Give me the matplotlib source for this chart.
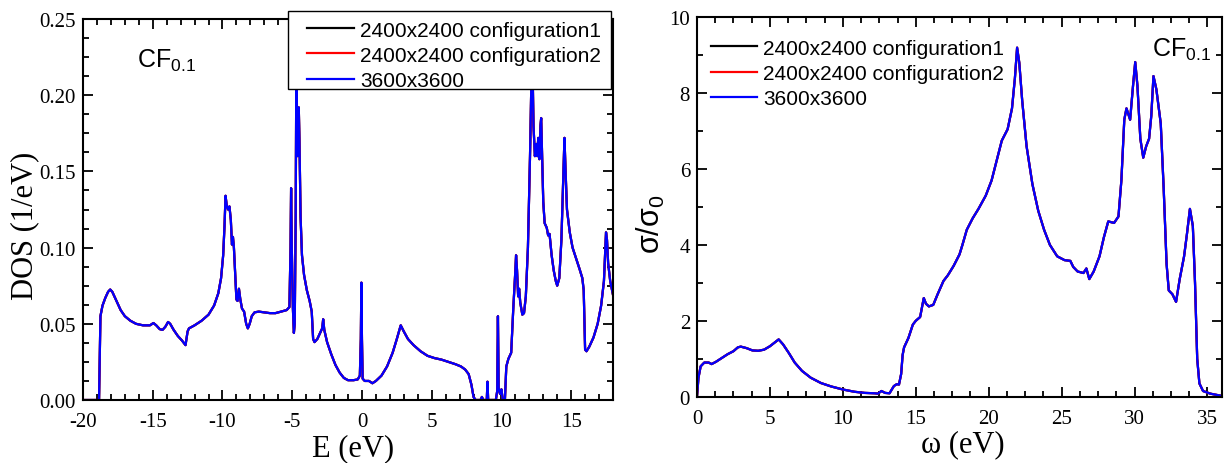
import matplotlib
matplotlib.use("Agg")
import matplotlib.pyplot as plt
from matplotlib.ticker import MultipleLocator, FormatStrFormatter
from matplotlib.patches import Rectangle

plt.rcParams['axes.unicode_minus'] = False
plt.rcParams['mathtext.fontset'] = 'custom'
plt.rcParams['mathtext.rm'] = 'Liberation Sans'
plt.rcParams['mathtext.it'] = 'Liberation Sans'

# ---------------- data ----------------
series_labels = ["2400x2400 configuration1", "2400x2400 configuration2", "3600x3600"]
series_colors = ["black", "red", "blue"]

energy = [-20, -18.85, -18.75, -18.6, -18.4, -18.2, -18.05, -17.9, -17.6, -17.3, -17.0, -16.6, -16.2,
          -15.7, -15.2, -14.95, -14.75, -14.5, -14.3, -14.1, -13.9, -13.75, -13.5, -13.2, -12.9, -12.65,
          -12.5, -12.4, -12.0, -11.5, -11.0, -10.6, -10.3, -10.1, -9.95, -9.85, -9.78, -9.7, -9.6, -9.5,
          -9.4, -9.32, -9.25, -9.18, -9.1, -9.0, -8.92, -8.82, -8.72, -8.6, -8.45, -8.3, -8.18, -8.05,
          -7.9, -7.7, -7.4, -7.0, -6.6, -6.2, -5.8, -5.4, -5.2, -5.12, -5.08, -5.03, -4.95, -4.88, -4.82,
          -4.75, -4.7, -4.65, -4.6, -4.53, -4.48, -4.4, -4.3, -4.15, -3.95, -3.75, -3.6, -3.5, -3.4, -3.2,
          -3.0, -2.85, -2.78, -2.7, -2.5, -2.2, -1.9, -1.6, -1.3, -1.0, -0.6, -0.3, -0.15, -0.08, -0.04,
          0.0, 0.05, 0.2, 0.5, 0.75, 1.0, 1.4, 1.8, 2.2, 2.5, 2.78, 3.0, 3.3, 3.7, 4.2, 4.7, 5.2, 5.7,
          6.2, 6.7, 7.1, 7.4, 7.65, 7.85, 8.0, 8.15, 8.5, 8.6, 8.7, 8.95, 9.0, 9.05, 9.6, 9.7, 9.75, 9.8,
          9.9, 10.0, 10.1, 10.25, 10.35, 10.5, 10.7, 10.85, 11.0, 11.05, 11.12, 11.2, 11.27, 11.35, 11.5,
          11.62, 11.75, 11.9, 12.05, 12.15, 12.22, 12.3, 12.4, 12.5, 12.57, 12.64, 12.72, 12.8, 12.85,
          12.92, 13.0, 13.1, 13.25, 13.35, 13.45, 13.6, 13.75, 13.9, 14.0, 14.15, 14.3, 14.45, 14.52,
          14.6, 14.7, 14.9, 15.1, 15.35, 15.6, 15.8, 15.9, 16.0, 16.1, 16.3, 16.6, 16.9, 17.15, 17.35,
          17.5, 17.57, 17.65, 17.8, 18.0]
dos = [0, 0, 0.055, 0.062, 0.067, 0.071, 0.0725, 0.071, 0.065, 0.059, 0.055, 0.052, 0.050,
       0.049, 0.049, 0.0505, 0.049, 0.0465, 0.046, 0.048, 0.0512, 0.050, 0.046, 0.042, 0.039, 0.036,
       0.045, 0.047, 0.049, 0.052, 0.056, 0.062, 0.070, 0.080, 0.095, 0.115, 0.134, 0.128, 0.125, 0.127,
       0.118, 0.102, 0.107, 0.100, 0.085, 0.066, 0.065, 0.073, 0.066, 0.060, 0.058, 0.050, 0.047, 0.050,
       0.055, 0.0575, 0.058, 0.0575, 0.057, 0.057, 0.058, 0.059, 0.061, 0.100, 0.139, 0.100, 0.060, 0.044, 0.050,
       0.120, 0.230, 0.180, 0.160, 0.192, 0.170, 0.120, 0.095, 0.082, 0.072, 0.065, 0.058, 0.040, 0.038, 0.040,
       0.044, 0.047, 0.053, 0.046, 0.038, 0.030, 0.023, 0.018, 0.0145, 0.013, 0.013, 0.0135, 0.016, 0.040, 0.077,
       0.040, 0.014, 0.0125, 0.0125, 0.011, 0.0125, 0.016, 0.022, 0.031, 0.040, 0.049, 0.045, 0.040, 0.036, 0.032, 0.029, 0.0275, 0.0265,
       0.025, 0.0235, 0.022, 0.020, 0.017, 0.010, 0.002, 0.0, 0.0, 0.002, 0.0, 0.0, 0.012, 0.0, 0.0, 0.006, 0.055, 0.008,
       0.004, 0.007, 0.0, 0.0, 0.022, 0.027, 0.031, 0.060, 0.085, 0.095, 0.085, 0.068, 0.073, 0.064, 0.056,
       0.057, 0.068, 0.100, 0.160, 0.210, 0.225, 0.180, 0.160, 0.168, 0.160, 0.172, 0.158, 0.180, 0.185,
       0.160, 0.130, 0.116, 0.113, 0.108, 0.109, 0.095, 0.085, 0.078, 0.075, 0.080, 0.105, 0.150, 0.172,
       0.150, 0.125, 0.110, 0.100, 0.093, 0.086, 0.080, 0.072, 0.033, 0.032, 0.035, 0.041, 0.050, 0.062, 0.078,
       0.110, 0.105, 0.090, 0.078, 0.069]

omega = [0, 0.1, 0.25, 0.5, 0.8, 1.0, 1.3, 1.7, 2.1, 2.5, 2.8, 3.0, 3.4, 3.8, 4.2, 4.6, 5.0, 5.3, 5.6,
         5.9, 6.3, 6.7, 7.2, 7.8, 8.5, 9.2, 10.0, 10.8, 11.5, 12.2, 12.4, 12.65, 12.9, 13.2, 13.5, 13.7,
         13.85, 14.0, 14.1, 14.2, 14.5, 14.8, 15.0, 15.3, 15.55, 15.7, 15.9, 16.2, 16.5, 16.9, 17.2, 17.6,
         18.0, 18.2, 18.5, 18.9, 19.3, 19.8, 20.2, 20.6, 20.9, 21.3, 21.6, 21.8, 21.95, 22.1, 22.3, 22.6,
         23.0, 23.4, 23.8, 24.2, 24.7, 25.2, 25.6, 25.8, 26.1, 26.5, 26.7, 26.9, 27.2, 27.6, 27.9, 28.2,
         28.4, 28.6, 28.9, 29.1, 29.3, 29.45, 29.7, 29.9, 30.05, 30.2, 30.4, 30.6, 30.8, 31.0, 31.15, 31.3,
         31.5, 31.8, 32.0, 32.2, 32.35, 32.6, 32.85, 33.1, 33.4, 33.6, 33.8, 34.0, 34.15, 34.3, 34.45, 34.7,
         35.2, 35.6, 36.0]
sigma = [0, 0.5, 0.8, 0.9, 0.9, 0.86, 0.92, 1.02, 1.12, 1.2, 1.3, 1.32, 1.28, 1.22, 1.21, 1.24, 1.33, 1.42, 1.51,
         1.38, 1.15, 0.9, 0.68, 0.50, 0.36, 0.27, 0.19, 0.13, 0.10, 0.09, 0.08, 0.15, 0.10, 0.09, 0.28, 0.33,
         0.32, 0.6, 1.1, 1.3, 1.55, 1.9, 2.0, 2.1, 2.6, 2.45, 2.38, 2.42, 2.7, 3.05, 3.2, 3.45,
         3.75, 4.0, 4.4, 4.7, 4.95, 5.3, 5.7, 6.3, 6.75, 7.05, 7.6, 8.4, 9.2, 8.8, 7.8, 6.6,
         5.6, 4.9, 4.4, 4.0, 3.7, 3.6, 3.58, 3.42, 3.3, 3.26, 3.38, 3.1, 3.3, 3.7, 4.2, 4.62,
         4.6, 4.58, 4.75, 5.7, 7.3, 7.6, 7.3, 8.2, 8.82, 8.2, 6.8, 6.3, 6.6, 6.8, 7.4, 8.45,
         8.1, 7.2, 5.5, 3.5, 2.8, 2.7, 2.5, 3.1, 3.7, 4.3, 4.95, 4.5, 3.0, 1.0, 0.35, 0.15,
         0.08, 0.05, 0.02]

# the three calculations coincide within line width
dos_series = [dos, dos, dos]
sigma_series = [sigma, sigma, sigma]

# ---------------- figure ----------------
fig = plt.figure(figsize=(12.26, 4.64), dpi=100)
ax1 = fig.add_axes([83/1226, (464-401)/464, (613-83)/1226, (401-20)/464])
ax2 = fig.add_axes([697/1226, (464-397.7)/464, (1222-697)/1226, (397.7-18.3)/464])

serif = 'Liberation Serif'
sans = 'Liberation Sans'
leg_font = {'family': sans, 'size': 15}

def style(ax):
    for s in ax.spines.values():
        s.set_linewidth(1.5)
    ax.tick_params(which='both', direction='in', top=True, right=True, width=1.3)
    ax.tick_params(which='major', length=7, labelsize=15)
    ax.tick_params(axis='x', which='major', pad=9)
    ax.tick_params(axis='y', which='major', pad=5)
    ax.tick_params(which='minor', length=4)
    for lab in ax.get_xticklabels() + ax.get_yticklabels():
        lab.set_fontfamily(serif)

# ---- left panel: DOS ----
for ys, lab, c in zip(dos_series, series_labels, series_colors):
    ax1.plot(energy, ys, color=c, lw=1.6, label=lab)
ax1.set_xlim(-20, 18)
ax1.set_ylim(0, 0.25)
ax1.xaxis.set_major_locator(MultipleLocator(5))
ax1.xaxis.set_minor_locator(MultipleLocator(1))
ax1.yaxis.set_major_locator(MultipleLocator(0.05))
ax1.yaxis.set_minor_locator(MultipleLocator(0.0125))
ax1.yaxis.set_major_formatter(FormatStrFormatter('%.2f'))
style(ax1)
ax1.set_xlabel('E (eV)', fontfamily=serif, fontsize=22, labelpad=1)
ax1.xaxis.label.set_x(0.51)
ax1.set_ylabel('DOS (1/eV)', fontfamily=serif, fontsize=22, labelpad=0)
ax1.yaxis.label.set_y(0.459)
ax1.text(0.102, 0.874, r'$\mathrm{CF}_{0.1}$', transform=ax1.transAxes, fontsize=18, va='baseline')

frame = Rectangle((0.387, 0.816), 0.996 - 0.387, 1.021 - 0.816, transform=ax1.transAxes,
                  facecolor='white', edgecolor='black', lw=1.0, clip_on=False, zorder=4)
ax1.add_patch(frame)
leg1 = ax1.legend(loc='upper left', bbox_to_anchor=(0.4226, 0.996), prop=leg_font,
                  frameon=False, handlelength=2.26, labelspacing=0.3, borderpad=0,
                  handletextpad=0.3, borderaxespad=0)
leg1.set_zorder(5)

# ---- right panel: conductivity ----
for ys, lab, c in zip(sigma_series, series_labels, series_colors):
    ax2.plot(omega, ys, color=c, lw=1.6, label=lab)
ax2.set_xlim(0, 36)
ax2.set_ylim(0, 10)
ax2.xaxis.set_major_locator(MultipleLocator(5))
ax2.xaxis.set_minor_locator(MultipleLocator(1.25))
ax2.yaxis.set_major_locator(MultipleLocator(2))
ax2.yaxis.set_minor_locator(MultipleLocator(1))
style(ax2)
ax2.set_xlabel('ω (eV)', fontfamily=serif, fontsize=22, labelpad=1)
ax2.xaxis.label.set_x(0.507)
ax2.set_ylabel(r'σ/σ$_0$', fontfamily=sans, fontsize=22, labelpad=2)
ax2.yaxis.label.set_y(0.458)
ax2.text(0.867, 0.898, r'$\mathrm{CF}_{0.1}$', transform=ax2.transAxes, fontsize=18, va='baseline')
ax2.legend(loc='upper left', bbox_to_anchor=(0.0267, 0.944), prop=leg_font,
           frameon=False, handlelength=2.2, labelspacing=0.3, borderpad=0,
           handletextpad=0.3, borderaxespad=0)

fig.savefig('out.png', dpi=100)
